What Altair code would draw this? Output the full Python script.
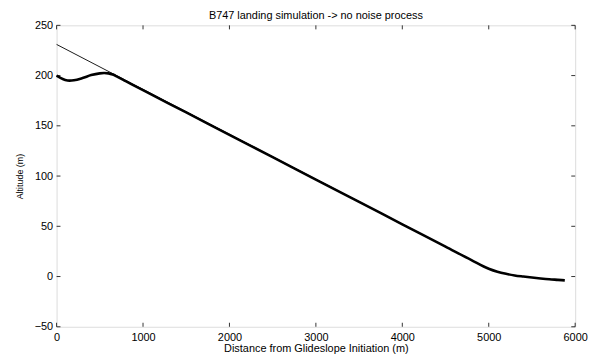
import altair as alt
import pandas as pd

# Actual trajectory (thick line)
traj_x = [0, 50, 100, 150, 200, 300, 400, 500, 550, 600, 650, 700, 800, 1000, 1500, 2000,
          2500, 3000, 3500, 4000, 4500, 4800, 5000, 5100, 5200, 5300, 5400, 5500, 5600,
          5700, 5800, 5880]
traj_y = [200, 197.5, 195.7, 195, 195.3, 197.5, 200.5, 202.2, 202.5, 202.2, 201, 199,
          194.5, 185.5, 163.3, 141, 118.8, 96.5, 74.3, 52, 29.8, 16.4, 7.8, 4.8, 2.7,
          1.1, 0, -1, -1.9, -2.7, -3.3, -3.8]

# Reference glideslope (thin line)
ref_x = [0, 5000]
ref_y = [231, 7.5]

x_ticks = [0, 1000, 2000, 3000, 4000, 5000, 6000]
y_ticks = [-50, 0, 50, 100, 150, 200, 250]

traj = pd.DataFrame({"x": traj_x, "y": traj_y})
ref = pd.DataFrame({"x": ref_x, "y": ref_y})

xs = alt.Scale(domain=[0, 6000], nice=False, zero=False)
ys = alt.Scale(domain=[-50, 250], nice=False, zero=False)

font = "Liberation Sans"

xaxis = alt.Axis(values=x_ticks, format="d", ticks=False, domain=False, grid=False,
                 labelFontSize=11, labelColor="black", labelFont=font, labelPadding=5,
                 title="Distance from Glideslope Initiation (m)", titleFontSize=11,
                 titleFont=font, titleFontWeight="normal", titleColor="black", titlePadding=0,
                 labelFlush=False)
yaxis = alt.Axis(values=y_ticks, format="d", ticks=False, domain=False, grid=False,
                 labelFontSize=11, labelColor="black", labelFont=font, labelPadding=4,
                 title="Altitude (m)", titleFontSize=9, titleFont=font,
                 titleFontWeight="normal", titleColor="black", titlePadding=10,
                 labelFlush=False)

thin = alt.Chart(ref).mark_line(color="black", strokeWidth=0.9).encode(
    x=alt.X("x:Q", scale=xs, axis=xaxis),
    y=alt.Y("y:Q", scale=ys, axis=yaxis),
)
thick = alt.Chart(traj).mark_line(color="black", strokeWidth=2.6, interpolate="monotone").encode(
    x=alt.X("x:Q", scale=xs),
    y=alt.Y("y:Q", scale=ys),
)

# inward ticks, MATLAB style
xt = pd.DataFrame({"x": x_ticks})
yt = pd.DataFrame({"y": y_ticks})
tick_bottom = alt.Chart(xt).mark_rule(color="black", strokeWidth=0.8).encode(
    x=alt.X("x:Q", scale=xs), y=alt.datum(-50), y2=alt.datum(-46))
tick_top = alt.Chart(xt).mark_rule(color="black", strokeWidth=0.8).encode(
    x=alt.X("x:Q", scale=xs), y=alt.datum(250), y2=alt.datum(246))
tick_left = alt.Chart(yt).mark_rule(color="black", strokeWidth=0.8).encode(
    y=alt.Y("y:Q", scale=ys), x=alt.datum(0), x2=alt.datum(45))
tick_right = alt.Chart(yt).mark_rule(color="black", strokeWidth=0.8).encode(
    y=alt.Y("y:Q", scale=ys), x=alt.datum(6000), x2=alt.datum(5955))

chart = alt.layer(thin, thick, tick_bottom, tick_top, tick_left, tick_right).properties(
    width=523, height=304,
    title=alt.TitleParams("B747 landing simulation -> no noise process", fontSize=11,
                          font=font, fontWeight="normal", color="black", offset=-2),
    autosize=alt.AutoSizeParams(type="none"),
    padding={"left": 49, "top": 16, "right": 20, "bottom": 30},
).configure_view(stroke="#333333", strokeWidth=1).configure(background="white")

chart.save("out.html", embed_options={"renderer": "svg", "actions": False})
